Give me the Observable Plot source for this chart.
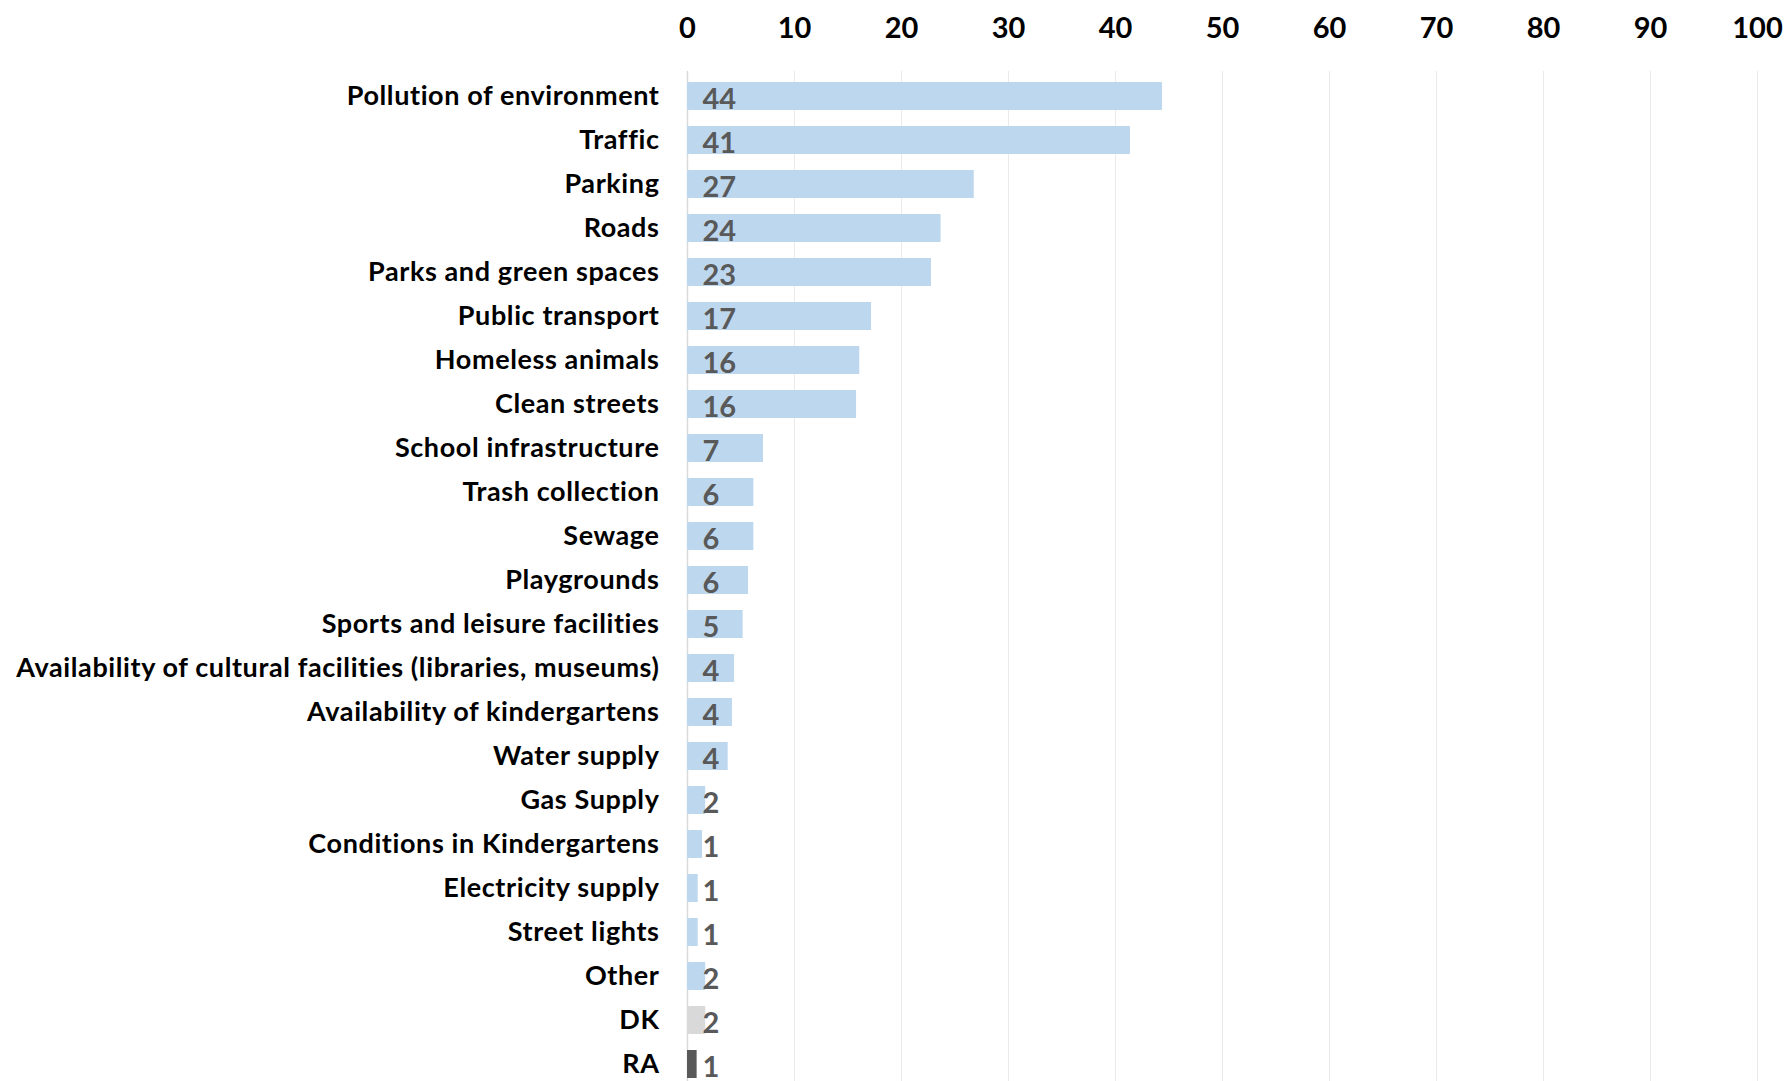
<!DOCTYPE html>
<html>
<head>
<meta charset="utf-8">
<script src="https://cdn.jsdelivr.net/npm/d3@7"></script>
<script src="https://cdn.jsdelivr.net/npm/@observablehq/plot@0.6"></script>
<style>
  html, body { margin: 0; padding: 0; background: #fff; }
  #chart svg { display: block; }
  #chart g[aria-label="y-axis tick label"] { letter-spacing: 0.6px; }
</style>
</head>
<body>
<div id="chart"></div>
<script>
const categories = [
  "Pollution of environment",
  "Traffic",
  "Parking",
  "Roads",
  "Parks and green spaces",
  "Public transport",
  "Homeless animals",
  "Clean streets",
  "School infrastructure",
  "Trash collection",
  "Sewage",
  "Playgrounds",
  "Sports and leisure facilities",
  "Availability of cultural facilities (libraries, museums)",
  "Availability of kindergartens",
  "Water supply",
  "Gas Supply",
  "Conditions in Kindergartens",
  "Electricity supply",
  "Street lights",
  "Other",
  "DK",
  "RA"
];
const values = [44.4, 41.4, 26.8, 23.7, 22.8, 17.2, 16.1, 15.8, 7.1, 6.2, 6.2, 5.7, 5.2, 4.4, 4.2, 3.8, 1.7, 1.4, 1.0, 1.0, 1.7, 1.7, 0.9];
const xTicks = [0, 10, 20, 30, 40, 50, 60, 70, 80, 90, 100];
const specialColors = { DK: "#d9d9d9", RA: "#595959" };

const data = categories.map((c, i) => ({ category: c, value: values[i] }));

const font = "Lato, 'Open Sans', sans-serif";

const chart = Plot.plot({
  width: 1792,
  height: 1081,
  marginTop: 71,
  marginBottom: 0,
  marginLeft: 687,
  marginRight: 35,
  style: { fontFamily: font, background: "#fff" },
  x: { domain: [0, 100], axis: null, label: null },
  y: { domain: categories, range: [73, 1087], paddingInner: 0.36, paddingOuter: 0, axis: null, label: null },
  marks: [
    Plot.gridX(xTicks, { stroke: "#e9e9e9", strokeOpacity: 1, strokeWidth: 1 }),
    Plot.ruleX([0], { stroke: "#d9d9d9", strokeWidth: 1.5 }),
    Plot.barX(data, {
      y: "category",
      x: "value",
      fill: d => specialColors[d.category] ?? "#bdd7ee"
    }),
    Plot.text(data, {
      y: "category",
      x: 0,
      dx: 15,
      dy: 3,
      text: d => d3.format(".0f")(d.value),
      textAnchor: "start",
      fill: "#595959",
      fontSize: 29,
      fontWeight: "bold"
    }),
    Plot.axisY({
      label: null,
      tickSize: 0,
      tickPadding: 28,
      fontSize: 27,
      fontWeight: "bold",
      fill: "#000"
    }),
    Plot.axisX(xTicks, {
      label: null,
      anchor: "top",
      tickSize: 0,
      tickPadding: 34,
      fontSize: 29,
      fontWeight: "bold",
      fill: "#000"
    })
  ]
});

document.getElementById("chart").appendChild(chart);
</script>
</body>
</html>
